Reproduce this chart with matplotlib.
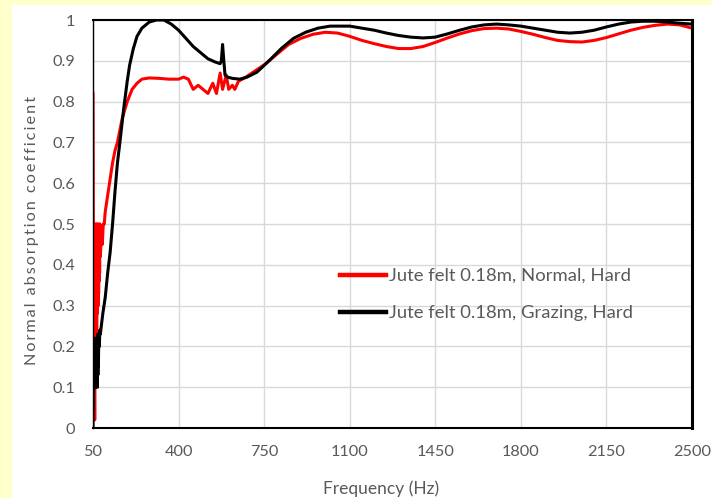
import numpy as np
import matplotlib
matplotlib.use('Agg')
import matplotlib.pyplot as plt
from matplotlib.patches import Rectangle

plt.rcParams['font.family'] = ['Lato', 'DejaVu Sans']

# normal incidence, hard backing
freq_normal = [50, 51, 52, 53, 54, 55, 56, 57, 58, 59, 60, 61, 62, 63, 64, 65, 66, 67,
               68, 69, 70, 71, 72, 73, 74, 75, 76, 77, 78, 80,
               84, 88, 92, 96, 100, 110, 120, 130, 140, 150, 160, 170, 180, 190, 210,
               230, 250, 280, 320, 360, 400, 420, 440, 460, 480, 500, 520, 540, 555,
               570, 580, 595, 605, 620, 630, 645, 670, 700, 750, 800, 850, 900, 950,
               1000, 1050, 1100, 1150, 1200, 1250, 1300, 1350, 1400, 1450, 1500, 1550,
               1600, 1650, 1700, 1750, 1800, 1850, 1900, 1950, 2000, 2050, 2100, 2150,
               2200, 2250, 2300, 2350, 2400, 2450, 2500]
alpha_normal = [0.82, 0.60, 0.22, 0.45, 0.25, 0.48, 0.22, 0.02, 0.45, 0.25, 0.50, 0.22,
                0.47, 0.26, 0.50, 0.23, 0.47, 0.28, 0.50, 0.30, 0.48, 0.30, 0.45, 0.33,
                0.50, 0.36, 0.47, 0.38, 0.50, 0.42, 0.47, 0.45, 0.50, 0.50, 0.53, 0.57,
                0.61, 0.65, 0.68, 0.70, 0.73, 0.76, 0.78, 0.80, 0.83, 0.845, 0.855,
                0.858, 0.857, 0.855, 0.855, 0.86, 0.855, 0.83, 0.84, 0.83, 0.82, 0.845,
                0.82, 0.87, 0.83, 0.865, 0.83, 0.84, 0.83, 0.85, 0.858, 0.87, 0.89,
                0.915, 0.94, 0.955, 0.965, 0.97, 0.968, 0.96, 0.95, 0.942, 0.935, 0.93,
                0.93, 0.935, 0.945, 0.956, 0.966, 0.974, 0.979, 0.98, 0.978, 0.972,
                0.965, 0.957, 0.95, 0.947, 0.946, 0.95, 0.957, 0.966, 0.975, 0.982,
                0.987, 0.99, 0.988, 0.98]

# grazing incidence, hard backing
freq_grazing = [50, 51, 52, 53, 54, 55, 56, 57, 58, 59, 60, 61, 62, 63, 64, 65, 66, 67,
                68, 69, 70, 71, 72, 74, 76, 78, 80, 90, 100,
                110, 120, 130, 140, 150, 160, 175, 190, 200, 215, 230, 250, 280, 310,
                340, 370, 400, 430, 460, 490, 520, 550, 570, 575, 580, 585, 590, 600,
                620, 650, 680, 720, 770, 820, 870, 920, 970, 1020, 1100, 1150, 1200,
                1250, 1300, 1350, 1400, 1450, 1500, 1550, 1600, 1650, 1700, 1750, 1800,
                1850, 1900, 1950, 2000, 2050, 2100, 2150, 2200, 2250, 2300, 2350, 2400,
                2450, 2500]
alpha_grazing = [0.0, 0.20, 0.05, 0.22, 0.10, 0.21, 0.12, 0.20, 0.10, 0.22, 0.12, 0.21,
                 0.10, 0.22, 0.11, 0.20, 0.12, 0.22, 0.10, 0.23, 0.13, 0.22, 0.15, 0.23,
                 0.20, 0.24, 0.23, 0.28, 0.32, 0.38, 0.43, 0.50, 0.58, 0.65, 0.70,
                 0.78, 0.85, 0.89, 0.93, 0.96, 0.98, 0.995, 1.0, 1.0, 0.99, 0.975,
                 0.955, 0.935, 0.92, 0.905, 0.897, 0.893, 0.90, 0.94, 0.90, 0.865, 0.86,
                 0.857, 0.855, 0.86, 0.872, 0.90, 0.93, 0.955, 0.97, 0.98, 0.985, 0.985,
                 0.98, 0.975, 0.968, 0.962, 0.958, 0.956, 0.958, 0.966, 0.975, 0.983,
                 0.988, 0.99, 0.988, 0.985, 0.98, 0.975, 0.97, 0.968, 0.97, 0.975,
                 0.983, 0.99, 0.995, 0.997, 0.997, 0.995, 0.992, 0.99]

xticks = [50, 400, 750, 1100, 1450, 1800, 2150, 2500]
yticks = [0, 0.1, 0.2, 0.3, 0.4, 0.5, 0.6, 0.7, 0.8, 0.9, 1]

grey = '#595959'

fig = plt.figure(figsize=(7.12, 4.98), dpi=100)
fig.patch.set_facecolor('white')
# yellow frame strips on the left and top
fig.patches.append(Rectangle((0, 0), 12/712., 1, transform=fig.transFigure,
                             facecolor='#FFFFCC', edgecolor='none', zorder=0))
fig.patches.append(Rectangle((0, 1-5/498.), 1, 5/498., transform=fig.transFigure,
                             facecolor='#FFFFCC', edgecolor='none', zorder=0))

ax = fig.add_axes([93/712., 70/498., 599/712., 408/498.])

ax.plot(freq_normal, alpha_normal, color='#FF0000', lw=2.2, label='Jute felt 0.18m, Normal, Hard')
ax.plot(freq_grazing, alpha_grazing, color='black', lw=2.2, label='Jute felt 0.18m, Grazing, Hard')

ax.set_xlim(50, 2500)
ax.set_ylim(0, 1)
ax.set_xticks(xticks)
ax.set_yticks(yticks)
ax.set_yticklabels(['{:g}'.format(v) for v in yticks])
ax.grid(True, color='#D9D9D9', lw=1)
ax.set_axisbelow(True)
ax.tick_params(length=0, labelsize=11.7, labelcolor=grey)
ax.tick_params(axis='y', pad=13)
ax.tick_params(axis='x', pad=12)

for side in ['left', 'bottom', 'top', 'right']:
    ax.spines[side].set_color('black')
ax.spines['left'].set_linewidth(1.0)
ax.spines['top'].set_linewidth(1.5)
ax.spines['bottom'].set_linewidth(1.5)
ax.spines['right'].set_linewidth(2.2)

ylab = '\u2009'.join('Normal absorption coefficient')
ax.set_ylabel(ylab, fontsize=11.7, color=grey, va='center')
ax.yaxis.set_label_coords(-0.102, 0.485)
ax.set_xlabel('Frequency (Hz)', fontsize=12.5, color=grey, va='center')
ax.xaxis.set_label_coords(0.481, -0.15)

leg = ax.legend(loc='upper left', bbox_to_anchor=(0.412, 0.392), frameon=False,
                fontsize=13.3, handlelength=2.5, handletextpad=0.15,
                labelspacing=1.15, borderpad=0, borderaxespad=0)
for t in leg.get_texts():
    t.set_color(grey)
for h in leg.legend_handles:
    h.set_linewidth(3.2)

plt.savefig('out.png', dpi=100)
